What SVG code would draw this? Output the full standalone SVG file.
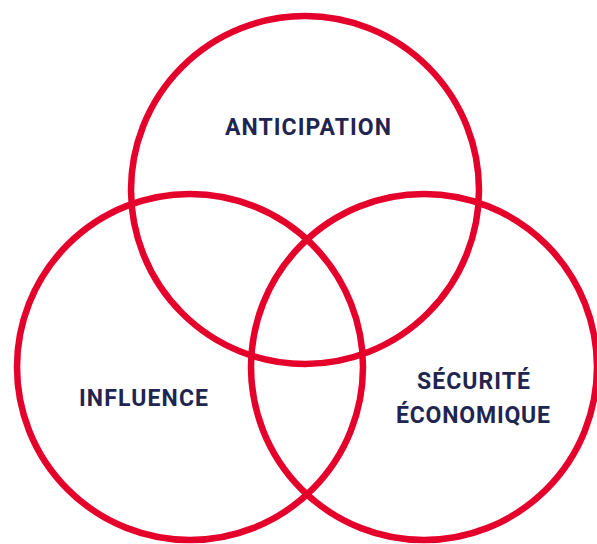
<svg xmlns="http://www.w3.org/2000/svg" width="597" height="544" viewBox="0 0 597 544">
<style>
.c{fill:none;stroke:#E4002B;stroke-width:6.5}
.t{font-family:Roboto,"Liberation Sans",sans-serif;font-weight:700;font-size:23px;fill:#1F2550;text-anchor:middle}
</style>
<rect width="597" height="544" fill="#FFFFFF"/>
<g id="anticipation">
<circle class="c" cx="305" cy="190" r="174"/>
<text class="t" x="308" y="135" textLength="166" lengthAdjust="spacing">ANTICIPATION</text>
</g>
<g id="influence">
<circle class="c" cx="190" cy="367" r="173"/>
<text class="t" x="143.5" y="406" textLength="129" lengthAdjust="spacing">INFLUENCE</text>
</g>
<g id="securite">
<circle class="c" cx="424" cy="367" r="173"/>
<text class="t" x="473.5" y="389" textLength="113" lengthAdjust="spacing">SÉCURITÉ</text>
<text class="t" x="473" y="423" textLength="154" lengthAdjust="spacing">ÉCONOMIQUE</text>
</g>
<g id="connectors"></g>
</svg>
